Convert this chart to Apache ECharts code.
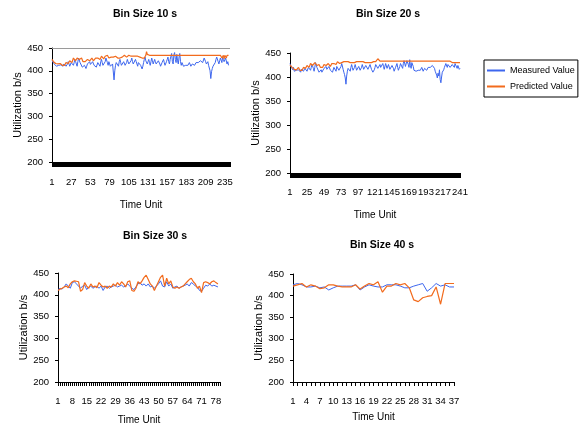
<!DOCTYPE html>
<html>
<head>
<meta charset="utf-8">
<script src="https://cdn.jsdelivr.net/npm/echarts@6/dist/echarts.min.js"></script>
<style>
  html, body { margin: 0; padding: 0; background: #fff; }
  #main { width: 581px; height: 429px; }
</style>
</head>
<body>
<div id="main"></div>
<script>
// 数据
let measured10 = [
  422,425,418,415,412,418,410,414,408,412,415,410,413,416,412,410,415,418,413,410,
  412,415,420,416,410,414,418,420,415,412,418,425,420,415,410,420,428,424,418,422,
  415,408,405,410,412,408,405,410,415,412,418,420,414,410,416,420,418,412,415,410,
  408,412,418,422,415,410,420,425,418,412,408,415,420,428,430,418,412,420,415,410,
  408,412,415,418,380,400,412,418,422,415,410,420,425,418,412,408,415,420,418,412,
  410,418,425,420,415,412,418,422,428,420,415,412,418,425,420,415,410,418,422,415,
  412,408,404,410,418,425,430,422,418,415,420,425,418,412,420,428,422,415,418,425,
  420,415,412,418,422,420,415,410,414,418,420,425,418,412,415,420,425,430,420,415,
  425,432,438,420,415,435,440,425,418,436,422,415,430,438,420,412,418,415,410,412,
  408,412,415,410,412,415,418,414,410,412,415,418,416,412,415,418,420,416,418,422,
  418,422,425,420,418,422,428,425,420,415,418,420,412,408,400,383,398,405,410,408,
  412,418,425,430,428,420,415,422,428,425,418,430,425,420,418,428,425,415,420,412
];
let predicted10 = [
  425,422,420,418,420,416,414,418,415,412,414,416,418,414,412,415,413,412,416,418,
  420,418,416,420,422,425,420,418,422,428,430,426,422,425,428,432,428,425,422,426,
  428,425,420,418,422,420,418,422,425,428,425,422,420,425,428,426,422,420,424,428,
  426,424,428,430,428,425,428,432,430,428,426,430,432,428,430,434,432,428,430,432,
  430,428,432,430,428,430,432,434,430,428,432,430,428,430,432,430,428,432,434,430,
  432,430,428,432,434,432,430,432,428,430,432,434,430,432,430,428,432,434,432,430,
  432,430,428,432,430,428,432,434,442,436,434,434,434,434,434,434,434,434,434,434,
  434,434,434,434,434,434,434,434,434,434,434,434,434,434,434,434,434,434,434,434,
  434,434,434,434,434,434,434,434,434,434,434,434,434,434,434,434,434,434,434,434,
  434,434,434,434,434,434,434,434,434,434,434,434,434,434,434,434,434,434,434,434,
  434,434,434,434,434,434,434,434,434,434,434,434,434,434,434,434,434,434,434,434,
  434,434,434,434,434,434,434,434,434,434,428,432,434,426,434,436,428,434,432,434
];
let measured20 = [
  428,425,420,418,415,420,412,416,410,414,418,412,415,418,414,410,416,420,415,412,
  414,418,422,418,412,416,420,422,418,414,420,426,422,418,412,420,430,426,420,424,
  418,410,408,412,415,410,408,412,418,415,420,422,416,412,418,422,420,414,418,412,
  410,414,420,424,418,412,422,426,420,414,410,416,422,428,424,416,410,405,398,385,
  402,412,418,422,416,412,420,426,420,414,410,420,426,420,414,410,416,422,420,414,
  412,420,426,422,416,414,420,424,428,422,416,412,420,426,422,416,412,410,408,415,
  420,426,430,424,418,414,420,426,420,416,422,428,422,416,420,428,424,418,420,426,
  422,416,414,420,424,422,418,412,416,420,424,428,420,414,418,422,428,432,424,418,
  428,434,438,422,418,434,438,426,420,436,424,418,430,434,422,414,418,416,412,414,
  410,414,418,412,414,418,420,416,412,414,418,420,418,414,418,420,422,418,420,424,
  420,424,426,422,418,412,410,404,398,408,402,415,395,388,400,410,406,415,420,424,
  428,424,420,426,430,426,420,416,422,426,428,424,420,428,430,426,418,424,428,416,418
];
let predicted20 = [
  425,424,422,420,422,418,416,420,418,415,416,418,420,416,414,416,415,414,418,420,
  422,420,418,422,424,426,422,420,424,428,430,428,424,426,428,430,428,426,424,426,
  428,426,422,420,424,422,420,424,426,428,426,424,422,426,428,428,424,422,426,428,
  428,426,428,430,428,426,428,432,430,428,428,430,432,430,430,432,432,430,430,432,
  430,430,432,430,430,430,432,432,430,430,432,430,430,432,432,430,430,432,432,430,
  432,430,430,432,432,432,430,432,430,430,432,432,430,432,430,430,432,432,432,430,
  430,432,432,430,438,436,434,433,433,433,433,433,433,433,433,433,433,433,433,433,
  433,433,433,433,433,433,433,433,433,433,433,433,433,433,433,433,433,433,433,433,
  433,433,433,433,433,433,433,433,433,433,433,433,433,433,433,433,433,433,433,433,
  433,433,433,433,433,433,433,433,433,433,433,433,433,433,433,433,433,433,433,433,
  433,433,433,433,433,433,433,433,433,433,433,433,433,433,433,433,433,433,433,433,
  433,433,433,433,433,433,433,430,431,430,430,431,430,430,429,430,431,430,430,431,430
];
let measured30 = [
  412,415,413,418,425,420,415,428,430,425,
  420,415,420,422,412,418,420,415,418,420,
  415,420,410,418,420,415,418,420,422,418,
  420,422,418,420,425,420,415,412,418,425,
  428,422,425,420,425,418,420,415,420,425,
  432,420,418,430,420,425,415,418,420,415,
  418,420,422,425,420,428,425,420,418,410,
  408,415,422,420,425,420,422,420,418
];
let predicted30 = [
  410,413,415,418,420,416,425,430,432,431,
  430,408,412,428,420,415,425,418,420,416,
  428,422,418,420,415,420,418,425,420,428,
  422,430,425,418,430,432,410,408,415,430,
  425,432,440,445,435,425,420,410,420,430,
  440,445,420,438,425,432,418,415,418,415,
  418,420,425,430,435,438,430,425,415,420,
  405,428,430,428,425,430,432,428,425
];
let measured40 = [
  425,428,425,420,420,422,418,420,413,418,422,422,422,422,425,413,420,425,422,420,
  420,425,425,425,422,418,418,422,425,428,410,418,428,422,425,420,420
];
let predicted40 = [
  422,425,428,420,425,422,416,418,425,425,422,420,420,420,425,415,422,428,425,432,
  408,422,422,428,425,428,418,390,386,395,398,400,420,380,428,428,428
];
let yTicks = [200, 250, 300, 350, 400, 450];
let titles = ['Bin Size 10 s', 'Bin Size 20 s', 'Bin Size 30 s', 'Bin Size 40 s'];
let legendNames = ['Measured Value', 'Predicted Value'];

function makeCats(n) {
  let arr = [];
  for (let i = 1; i <= n; i++) arr.push(String(i));
  return arr;
}
let cat10 = makeCats(242), cat20 = makeCats(241), cat30 = makeCats(80), cat40 = makeCats(37);

const FONT = "'Liberation Sans', Arial, sans-serif";
const BLUE = '#3d66ee', ORANGE = '#f26b1d';

// grid boxes
let grids = [
  { left: 52, top: 48, width: 178, height: 114 },
  { left: 290, top: 53, width: 170, height: 120 },
  { left: 58, top: 273, width: 162, height: 109 },
  { left: 293, top: 274, width: 161, height: 108 }
];
let labelStep = [25, 23, 6, 2];
let labelMargin = [15, 14, 14, 14];
// null = library default (last label on the interval stays)
let showLast = [null, true, null, true];
let xNameGap = [38, 37, 33, 30];
let yNameGap = [26, 22, 25, 22];
let tickLen = [5, 5, 4, 4];
let cats = [cat10, cat20, cat30, cat40];
let titlePos = [[145, 9], [388, 9], [155, 231], [382, 240]];

function createCharts() {
  let myChart = echarts.init(document.getElementById('main'));
  let xAxis = [], yAxis = [], series = [], title = [];
  let pairs = [[measured10, predicted10], [measured20, predicted20], [measured30, predicted30], [measured40, predicted40]];
  grids.forEach(function (g, i) {
    title.push({
      text: titles[i], left: titlePos[i][0], top: titlePos[i][1], textAlign: 'center', padding: 0,
      textStyle: { fontFamily: FONT, fontSize: 10.5, fontWeight: 'bold', color: '#000' }
    });
    let axisLabel = {
      interval: labelStep[i], fontFamily: FONT, fontSize: 9.5, color: '#000', margin: labelMargin[i],
      hideOverlap: false
    };
    if (showLast[i] !== null) axisLabel.showMaxLabel = showLast[i];
    xAxis.push({
      type: 'category', gridIndex: i, data: cats[i], boundaryGap: false,
      name: 'Time Unit', nameLocation: 'middle', nameGap: xNameGap[i],
      nameTextStyle: { fontFamily: FONT, fontSize: 10, color: '#000' },
      axisLine: { lineStyle: { color: '#000', width: 1 } },
      axisTick: { show: true, interval: 0, length: tickLen[i], lineStyle: { color: '#000' } },
      axisLabel: axisLabel,
      splitLine: { show: false }
    });
    yAxis.push({
      type: 'value', gridIndex: i, min: yTicks[0], max: yTicks[yTicks.length - 1], interval: 50,
      name: 'Utilization b/s', nameLocation: 'middle', nameGap: yNameGap[i], nameRotate: 90,
      nameTextStyle: { fontFamily: FONT, fontSize: 11, color: '#000' },
      axisLine: { show: true, lineStyle: { color: '#000', width: 1 } },
      axisTick: { show: true, length: 3, lineStyle: { color: '#000' } },
      axisLabel: { fontFamily: FONT, fontSize: 9.5, color: '#000', margin: 9 },
      splitLine: { show: false }
    });
    series.push({
      name: legendNames[0], type: 'line', xAxisIndex: i, yAxisIndex: i, data: pairs[i][0],
      symbol: 'none', lineStyle: { color: BLUE, width: 1 }, itemStyle: { color: BLUE }, animation: false
    });
    let pred = {
      name: legendNames[1], type: 'line', xAxisIndex: i, yAxisIndex: i, data: pairs[i][1],
      symbol: 'none', lineStyle: { color: ORANGE, width: 1.2 }, itemStyle: { color: ORANGE }, animation: false
    };
    // 10s chart has a grey line along the top
    if (i === 0) {
      pred.markLine = {
        silent: true, symbol: 'none', label: { show: false },
        lineStyle: { color: '#9a9a9a', type: 'solid', width: 1 },
        data: [{ yAxis: 450 }]
      };
    }
    series.push(pred);
  });

  let option = {
    backgroundColor: '#fff',
    animation: false,
    title: title,
    legend: {
      data: legendNames, orient: 'vertical', left: 484, top: 60,
      padding: [6, 3, 6, 3], itemGap: 7, itemWidth: 18, itemHeight: 2, icon: 'rect',
      borderColor: '#000', borderWidth: 1,
      textStyle: { fontFamily: FONT, fontSize: 9, color: '#000' }
    },
    grid: grids,
    xAxis: xAxis,
    yAxis: yAxis,
    series: series
  };
  myChart.setOption(option);
}

createCharts();
</script>
</body>
</html>
